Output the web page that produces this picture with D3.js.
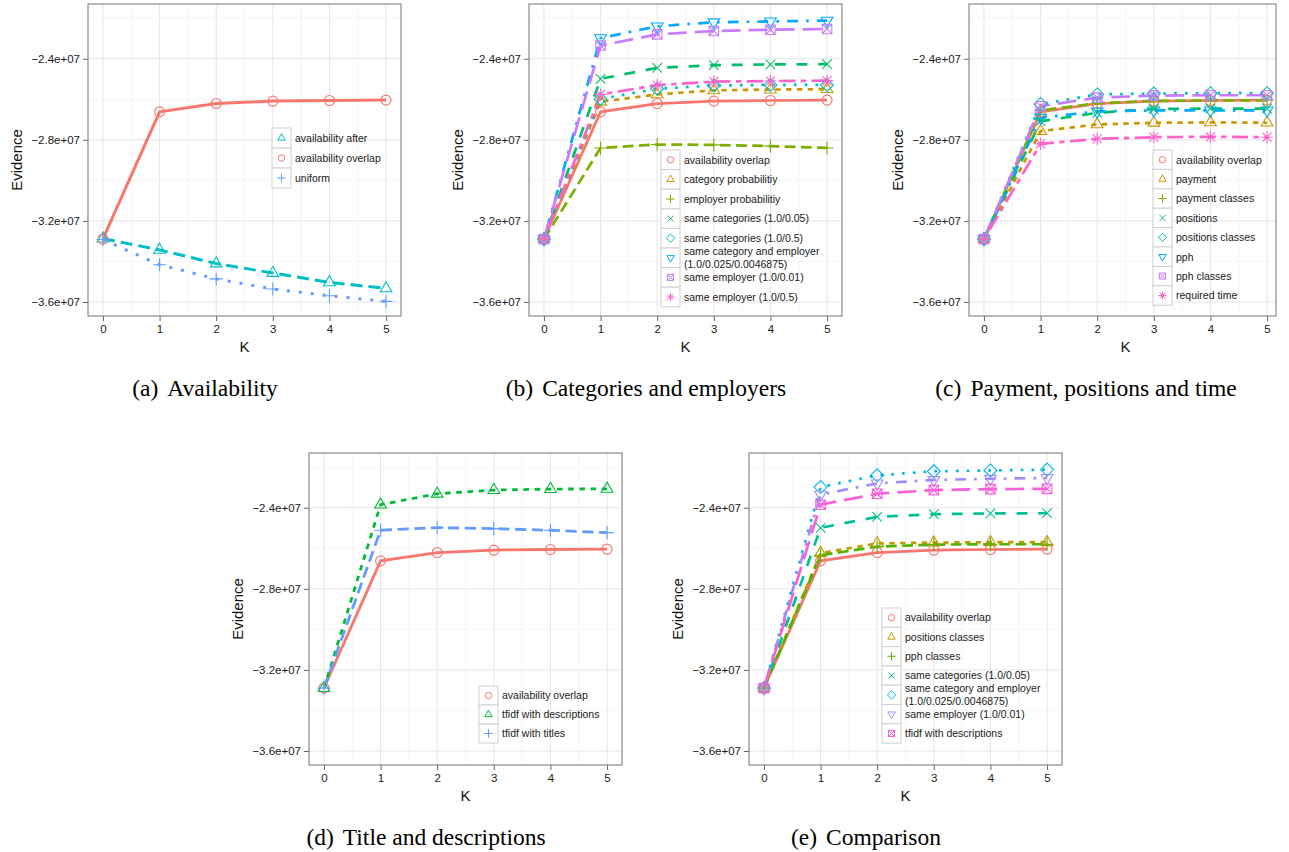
<!DOCTYPE html>
<html>
<head>
<meta charset="utf-8">
<script src="https://cdn.jsdelivr.net/npm/d3@7"></script>
<style>
  body { margin: 0; background: #fff; }
  svg { display: block; }
</style>
</head>
<body>
<div id="chart"></div>
<script>
// K values on the x axis
const K = [0, 1, 2, 3, 4, 5];
const yTicks = [-3.6e7, -3.2e7, -2.8e7, -2.4e7];
const yMinorTicks = [-3.4e7, -3.0e7, -2.6e7, -2.2e7];
const xMinorTicks = [0.5, 1.5, 2.5, 3.5, 4.5];

// Evidence per K
const availabilityOverlap = [-3.289e7, -2.662e7, -2.621e7, -2.609e7, -2.606e7, -2.604e7];
const availabilityAfter   = [-3.287e7, -3.343e7, -3.410e7, -3.457e7, -3.503e7, -3.533e7];
const uniform             = [-3.292e7, -3.416e7, -3.486e7, -3.536e7, -3.569e7, -3.597e7];

const categoryProb  = [-3.290e7, -2.612e7, -2.576e7, -2.556e7, -2.552e7, -2.550e7];
const employerProb  = [-3.290e7, -2.840e7, -2.823e7, -2.825e7, -2.831e7, -2.840e7];
const sameCat005    = [-3.290e7, -2.499e7, -2.445e7, -2.432e7, -2.428e7, -2.427e7];
const sameCat05     = [-3.290e7, -2.598e7, -2.548e7, -2.532e7, -2.529e7, -2.529e7];
const sameCatEmp    = [-3.290e7, -2.298e7, -2.240e7, -2.220e7, -2.216e7, -2.212e7];
const sameEmp001    = [-3.290e7, -2.335e7, -2.280e7, -2.263e7, -2.257e7, -2.253e7];
const sameEmp05     = [-3.290e7, -2.576e7, -2.530e7, -2.513e7, -2.510e7, -2.508e7];

const payment          = [-3.290e7, -2.757e7, -2.724e7, -2.716e7, -2.714e7, -2.715e7];
const paymentClasses   = [-3.290e7, -2.655e7, -2.620e7, -2.608e7, -2.606e7, -2.605e7];
const positions        = [-3.290e7, -2.708e7, -2.667e7, -2.648e7, -2.646e7, -2.646e7];
const positionsClasses = [-3.290e7, -2.624e7, -2.576e7, -2.572e7, -2.570e7, -2.570e7];
const pph              = [-3.290e7, -2.691e7, -2.660e7, -2.655e7, -2.655e7, -2.655e7];
const pphClasses       = [-3.290e7, -2.634e7, -2.592e7, -2.582e7, -2.580e7, -2.580e7];
const requiredTime     = [-3.290e7, -2.820e7, -2.795e7, -2.787e7, -2.785e7, -2.787e7];

const tfidfDescriptions = [-3.290e7, -2.385e7, -2.331e7, -2.313e7, -2.308e7, -2.307e7];
const tfidfTitles       = [-3.290e7, -2.511e7, -2.498e7, -2.503e7, -2.511e7, -2.523e7];

const SANS = "'Liberation Sans', Arial, Helvetica, sans-serif";
const SERIF = "'Liberation Serif', 'Times New Roman', serif";

// ggplot-like linetypes (digits are multiples of line width)
const lineTypes = {
  solid: null, '22': [2, 2], '42': [4, 2], '44': [4, 4], '13': [1, 3],
  '1343': [1, 3, 4, 3], '73': [7, 3], '2262': [2, 2, 6, 2]
};

const panels = [
  { caption: '(a)', title: 'Availability', left: 88, top: 4, lw: 3,
    legend: { x: 272, y: 128, rowH: 20 },
    series: [
      { name: ['availability after'], values: availabilityAfter, color: '#00BFC4', shape: 'triangle', lt: '42' },
      { name: ['availability overlap'], values: availabilityOverlap, color: '#F8766D', shape: 'circle', lt: 'solid' },
      { name: ['uniform'], values: uniform, color: '#619CFF', shape: 'plus', lt: '13' }
    ] },
  { caption: '(b)', title: 'Categories and employers', left: 529, top: 4, lw: 2.7,
    legend: { x: 661, y: 150, rowH: 19.6 },
    series: [
      { name: ['availability overlap'], values: availabilityOverlap, color: '#F8766D', shape: 'circle', lt: 'solid' },
      { name: ['category probabilitiy'], values: categoryProb, color: '#CD9600', shape: 'triangle', lt: '22' },
      { name: ['employer probabilitiy'], values: employerProb, color: '#7CAE00', shape: 'plus', lt: '42' },
      { name: ['same categories (1.0/0.05)'], values: sameCat005, color: '#00BE67', shape: 'x', lt: '44' },
      { name: ['same categories (1.0/0.5)'], values: sameCat05, color: '#00BFC4', shape: 'diamond', lt: '13' },
      { name: ['same category and employer', '(1.0/0.025/0.0046875)'], values: sameCatEmp, color: '#00A9FF', shape: 'down', lt: '1343' },
      { name: ['same employer (1.0/0.01)'], values: sameEmp001, color: '#C77CFF', shape: 'squarex', lt: '73' },
      { name: ['same employer (1.0/0.5)'], values: sameEmp05, color: '#FF61CC', shape: 'asterisk', lt: '2262' }
    ] },
  { caption: '(c)', title: 'Payment, positions and time', left: 969, top: 4, lw: 2.7, frameW: 307,
    legend: { x: 1153, y: 150, rowH: 19.4 },
    series: [
      { name: ['availability overlap'], values: availabilityOverlap, color: '#F8766D', shape: 'circle', lt: 'solid' },
      { name: ['payment'], values: payment, color: '#CD9600', shape: 'triangle', lt: '22' },
      { name: ['payment classes'], values: paymentClasses, color: '#7CAE00', shape: 'plus', lt: '42' },
      { name: ['positions'], values: positions, color: '#00BE67', shape: 'x', lt: '44' },
      { name: ['positions classes'], values: positionsClasses, color: '#00BFC4', shape: 'diamond', lt: '13' },
      { name: ['pph'], values: pph, color: '#00A9FF', shape: 'down', lt: '1343' },
      { name: ['pph classes'], values: pphClasses, color: '#C77CFF', shape: 'squarex', lt: '73' },
      { name: ['required time'], values: requiredTime, color: '#FF61CC', shape: 'asterisk', lt: '2262' }
    ] },
  { caption: '(d)', title: 'Title and descriptions', left: 309, top: 453, lw: 2.8,
    legend: { x: 479, y: 686, rowH: 19 },
    series: [
      { name: ['availability overlap'], values: availabilityOverlap, color: '#F8766D', shape: 'circle', lt: 'solid' },
      { name: ['tfidf with descriptions'], values: tfidfDescriptions, color: '#00BA38', shape: 'triangle', lt: '22' },
      { name: ['tfidf with titles'], values: tfidfTitles, color: '#619CFF', shape: 'plus', lt: '42' }
    ] },
  { caption: '(e)', title: 'Comparison', left: 749, top: 453, lw: 2.7,
    legend: { x: 882, y: 608, rowH: 19.3 },
    series: [
      { name: ['availability overlap'], values: availabilityOverlap, color: '#F8766D', shape: 'circle', lt: 'solid' },
      { name: ['positions classes'], values: positionsClasses, color: '#C49A00', shape: 'triangle', lt: '22' },
      { name: ['pph classes'], values: pphClasses, color: '#53B400', shape: 'plus', lt: '42' },
      { name: ['same categories (1.0/0.05)'], values: sameCat005, color: '#00C094', shape: 'x', lt: '44' },
      { name: ['same category and employer', '(1.0/0.025/0.0046875)'], values: sameCatEmp, color: '#00B6EB', shape: 'diamond', lt: '13' },
      { name: ['same employer (1.0/0.01)'], values: sameEmp001, color: '#A58AFF', shape: 'down', lt: '1343' },
      { name: ['tfidf with descriptions'], values: tfidfDescriptions, color: '#FB61D7', shape: 'squarex', lt: '73' }
    ] }
];

const W = 1289, H = 852;
const plotW = 313, plotH = 312;

const svg = d3.select('#chart').append('svg')
  .attr('width', W).attr('height', H)
  .attr('viewBox', `0 0 ${W} ${H}`);

// marker path for a ggplot shape, centred on 0,0
function shapePath(shape, s) {
  let a;
  switch (shape) {
    case 'circle':
      return `M${-s},0A${s},${s} 0 1,0 ${s},0A${s},${s} 0 1,0 ${-s},0Z`;
    case 'triangle':
      a = s * 1.35;
      return `M0,${-a}L${a * 0.866},${a * 0.5}L${-a * 0.866},${a * 0.5}Z`;
    case 'down':
      a = s * 1.35;
      return `M0,${a}L${a * 0.866},${-a * 0.5}L${-a * 0.866},${-a * 0.5}Z`;
    case 'plus':
      a = s * 1.3;
      return `M${-a},0H${a}M0,${-a}V${a}`;
    case 'x':
      a = s * 0.95;
      return `M${-a},${-a}L${a},${a}M${a},${-a}L${-a},${a}`;
    case 'diamond':
      a = s * 1.3;
      return `M0,${-a}L${a},0L0,${a}L${-a},0Z`;
    case 'squarex':
      a = s * 0.95;
      return `M${-a},${-a}H${a}V${a}H${-a}ZM${-a},${-a}L${a},${a}M${a},${-a}L${-a},${a}`;
    case 'asterisk':
      a = s * 1.2;
      const b = a * 0.75;
      return `M${-a},0H${a}M0,${-a}V${a}M${-b},${-b}L${b},${b}M${b},${-b}L${-b},${b}`;
  }
  return '';
}

function drawPanel(p) {
  const fw = p.frameW || plotW;
  const g = svg.append('g').attr('transform', `translate(${p.left},${p.top})`);

  const x = d3.scaleLinear().domain([-0.264, 5.264]).range([0, plotW]);
  const y = d3.scaleLinear().domain([-3.669e7, -2.13e7]).range([plotH, 0]);

  // background and grid
  g.append('rect').attr('width', fw).attr('height', plotH).attr('fill', '#fff');
  g.selectAll('.ygm').data(yMinorTicks).join('line')
    .attr('x1', 0).attr('x2', fw).attr('y1', d => y(d)).attr('y2', d => y(d))
    .attr('stroke', '#F4F4F4').attr('stroke-width', 0.8);
  g.selectAll('.xgm').data(xMinorTicks).join('line')
    .attr('y1', 0).attr('y2', plotH).attr('x1', d => x(d)).attr('x2', d => x(d))
    .attr('stroke', '#F4F4F4').attr('stroke-width', 0.8);
  g.selectAll('.yg').data(yTicks).join('line')
    .attr('x1', 0).attr('x2', fw).attr('y1', d => y(d)).attr('y2', d => y(d))
    .attr('stroke', '#E5E5E5').attr('stroke-width', 1);
  g.selectAll('.xg').data(K).join('line')
    .attr('y1', 0).attr('y2', plotH).attr('x1', d => x(d)).attr('x2', d => x(d))
    .attr('stroke', '#E5E5E5').attr('stroke-width', 1);

  // axes
  const yAxis = d3.axisLeft(y).tickValues(yTicks).tickSize(5).tickPadding(3)
    .tickFormat(d => '\u2212' + (Math.abs(d) / 1e7).toFixed(1) + 'e+07');
  const xAxis = d3.axisBottom(x).tickValues(K).tickSize(5).tickPadding(4).tickFormat(d3.format('d'));

  const ya = g.append('g').call(yAxis);
  const xa = g.append('g').attr('transform', `translate(0,${plotH})`).call(xAxis);
  [ya, xa].forEach(a => {
    a.select('.domain').remove();
    a.selectAll('.tick line').attr('stroke', '#666');
    a.selectAll('.tick text').attr('fill', '#1a1a1a')
      .style('font-family', SANS).style('font-size', '11.5px');
  });

  // series
  const plot = g.append('g');
  const line = d3.line().x((d, i) => x(K[i])).y(d => y(d));
  p.series.forEach(s => {
    const dash = lineTypes[s.lt];
    plot.append('path').datum(s.values)
      .attr('d', line)
      .attr('fill', 'none')
      .attr('stroke', s.color)
      .attr('stroke-width', p.lw)
      .attr('stroke-dasharray', dash ? dash.map(v => v * p.lw).join(',') : null);
  });
  p.series.forEach(s => {
    plot.selectAll(null).data(s.values).join('path')
      .attr('transform', (d, i) => `translate(${x(K[i])},${y(d)})`)
      .attr('d', shapePath(s.shape, 5))
      .attr('fill', 'none')
      .attr('stroke', s.color)
      .attr('stroke-width', 1.1);
  });

  // frame
  g.append('rect').attr('width', fw).attr('height', plotH)
    .attr('fill', 'none').attr('stroke', '#7F7F7F').attr('stroke-width', 1.1);

  // axis titles
  g.append('text').attr('x', plotW / 2).attr('y', plotH + 36)
    .attr('text-anchor', 'middle').style('font-family', SANS).style('font-size', '15px')
    .attr('fill', '#111').text('K');
  g.append('text').attr('transform', `translate(-66,${plotH / 2}) rotate(-90)`)
    .attr('text-anchor', 'middle').style('font-family', SANS).style('font-size', '15px')
    .attr('fill', '#111').text('Evidence');

  // legend
  const lg = svg.append('g').attr('transform', `translate(${p.legend.x},${p.legend.y})`);
  const rh = p.legend.rowH;
  p.series.forEach((s, i) => {
    const row = lg.append('g').attr('transform', `translate(0,${i * rh})`);
    row.append('rect').attr('width', 19).attr('height', rh)
      .attr('fill', '#fff').attr('stroke', '#D0D0D0').attr('stroke-width', 1);
    row.append('path').attr('transform', `translate(9.5,${rh / 2})`)
      .attr('d', shapePath(s.shape, 3.2))
      .attr('fill', 'none').attr('stroke', s.color).attr('stroke-width', 1);
    const t = row.append('text').attr('x', 23)
      .style('font-family', SANS).style('font-size', '10.5px').attr('fill', '#1a1a1a');
    if (s.name.length === 1) {
      t.attr('y', rh / 2 + 3.8).text(s.name[0]);
    } else {
      s.name.forEach((n, j) => {
        t.append('tspan').attr('x', 23).attr('y', rh / 2 - 2.6 + j * 12.5).text(n);
      });
    }
  });

  // caption
  const cap = svg.append('text')
    .attr('x', p.left + 117).attr('y', p.top + plotH + 80)
    .attr('text-anchor', 'middle')
    .style('font-family', SERIF).style('font-size', '23.5px').attr('fill', '#000');
  cap.append('tspan').text(p.caption);
  cap.append('tspan').attr('dx', 9).text(p.title);
}

panels.forEach(drawPanel);
</script>
</body>
</html>
